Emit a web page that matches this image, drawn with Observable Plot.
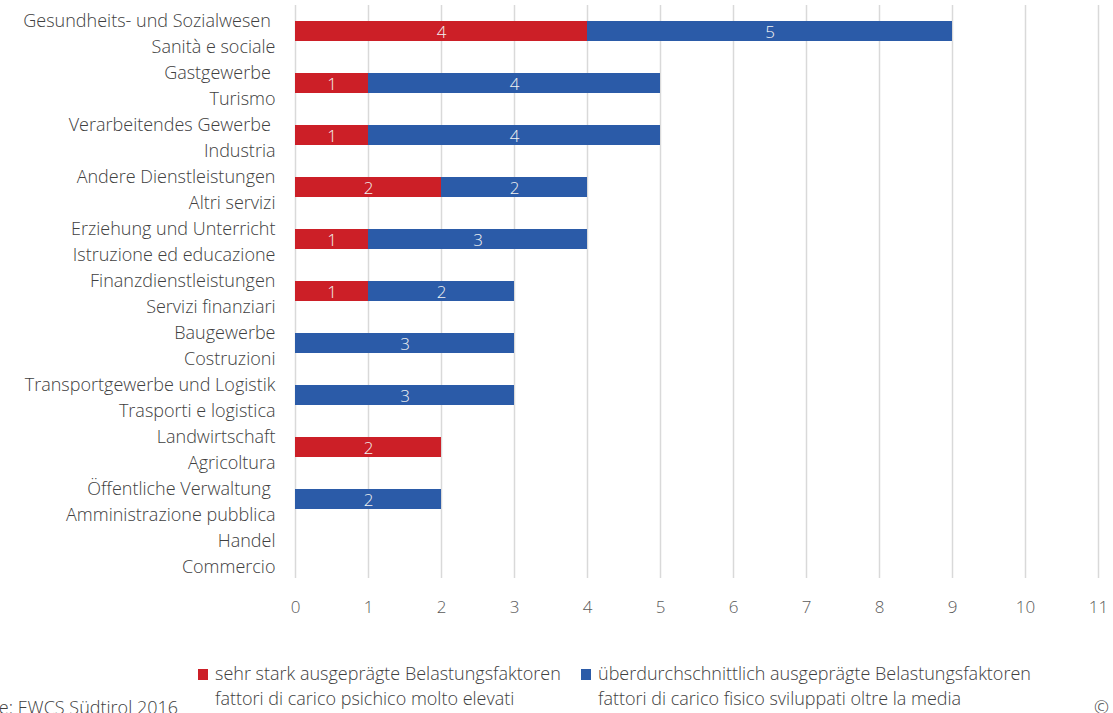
<!DOCTYPE html>
<html>
<head>
<meta charset="utf-8">
<script src="https://cdn.jsdelivr.net/npm/d3@7"></script>
<script src="https://cdn.jsdelivr.net/npm/@observablehq/plot@0.6"></script>
<style>
  html, body { margin: 0; padding: 0; background: #fff; overflow: hidden; }
  body { width: 1113px; height: 713px; position: relative; font-family: "Open Sans", sans-serif; font-weight: 300; color: #404040; }
  #chart { position: absolute; left: 0; top: 0; }
  .legend { position: absolute; top: 661px; font-size: 18px; line-height: 25px; color: #404040; white-space: nowrap; }
  .sw { display: inline-block; width: 10px; height: 11px; margin-right: 7px; vertical-align: 0px; }
  .source { position: absolute; right: 935px; top: 695px; font-size: 18px; color: #404040; white-space: nowrap; }
  .copy { position: absolute; left: 1094px; top: 695px; font-size: 18px; color: #404040; }
</style>
</head>
<body>
<div id="chart"></div>
<div class="legend" style="left:198px;"><span class="sw" style="background:#cc1f27"></span>sehr stark ausgeprägte Belastungsfaktoren<br><span style="margin-left:17px">fattori di carico psichico molto elevati</span></div>
<div class="legend" style="left:581px;"><span class="sw" style="background:#2b5ba8"></span>überdurchschnittlich ausgeprägte Belastungsfaktoren<br><span style="margin-left:17px">fattori di carico fisico sviluppati oltre la media</span></div>
<div class="source">Fonte: EWCS Südtirol 2016</div>
<div class="copy">©</div>
<script>
const categories = [
  "Gesundheits- und Sozialwesen \nSanità e sociale",
  "Gastgewerbe \nTurismo",
  "Verarbeitendes Gewerbe \nIndustria",
  "Andere Dienstleistungen\nAltri servizi",
  "Erziehung und Unterricht\nIstruzione ed educazione",
  "Finanzdienstleistungen\nServizi finanziari",
  "Baugewerbe\nCostruzioni",
  "Transportgewerbe und Logistik\nTrasporti e logistica",
  "Landwirtschaft\nAgricoltura",
  "Öffentliche Verwaltung \nAmministrazione pubblica",
  "Handel\nCommercio"
];
const psychisch = [4, 1, 1, 2, 1, 1, 0, 0, 2, 0, 0];
const physisch  = [5, 4, 4, 2, 3, 2, 3, 3, 0, 2, 0];
const seriesNames = ["sehr stark ausgeprägte Belastungsfaktoren", "überdurchschnittlich ausgeprägte Belastungsfaktoren"];
const seriesColors = ["#cc1f27", "#2b5ba8"];
const xTicks = [0,1,2,3,4,5,6,7,8,9,10,11];

const data = [];
categories.forEach((c, i) => {
  data.push({cat: c, series: seriesNames[0], value: psychisch[i]});
  data.push({cat: c, series: seriesNames[1], value: physisch[i]});
});
const nonzero = data.filter(d => d.value > 0);

const plot = Plot.plot({
  width: 1113,
  height: 630,
  marginLeft: 295,
  marginRight: 15,
  marginTop: 5,
  marginBottom: 52,
  style: {fontFamily: "Open Sans, sans-serif", fontWeight: 300, background: "#fff"},
  x: {domain: [0, 11], ticks: xTicks, label: null, tickSize: 0, tickPadding: 22, grid: false},
  y: {domain: categories, paddingInner: 0.61, paddingOuter: 0.305, axis: null},
  color: {domain: seriesNames, range: seriesColors},
  marks: [
    Plot.ruleX(xTicks, {stroke: "#d9d9d9", strokeWidth: 1.5, strokeOpacity: 1}),
    Plot.barX(nonzero, Plot.stackX({y: "cat", x: "value", fill: "series", order: seriesNames})),
    Plot.text(nonzero, Plot.stackX({y: "cat", x: "value", z: "series", order: seriesNames, text: d => String(d.value), fill: "#f2f2f2", fontSize: 17, fontWeight: 300, dy: 1})),
    Plot.text(categories, {x: 0, y: d => d, text: d => d, textAnchor: "end", dx: -20, fontSize: 18, lineHeight: 1.444, fill: "#404040", fontWeight: 300}),
    Plot.axisX({ticks: xTicks, tickSize: 0, tickPadding: 22, fontSize: 17, fill: "#595959", label: null})
  ]
});
document.getElementById("chart").appendChild(plot);
</script>
</body>
</html>
